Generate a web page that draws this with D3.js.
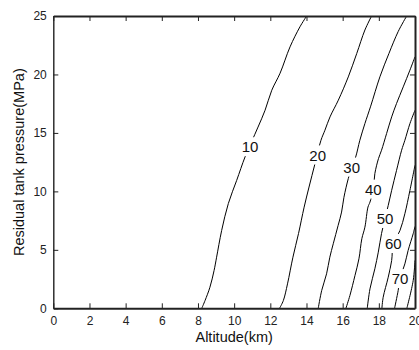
<!DOCTYPE html>
<html>
<head>
<meta charset="utf-8">
<script src="https://cdn.jsdelivr.net/npm/d3@7"></script>
<style>
  body { margin: 0; background: #fff; }
  svg { display: block; font-family: Arial, "Liberation Sans", sans-serif; }
</style>
</head>
<body>
<div id="chart"></div>
<script>
// contour levels (values on the lines), last one is unlabelled
const levels = [10, 20, 30, 40, 50, 60, 70, 80];

// each line: [altitude km, residual pressure MPa]
const line10 = [[8.21, 0], [8.39, 0.66], [8.66, 1.8], [8.89, 3.23], [9.03, 4.37], [9.31, 6.66], [9.68, 8.97],
  [10.14, 10.94], [10.6, 12.94], [10.95, 14.2], [11.32, 15.5], [11.71, 16.94], [12.08, 18.65], [12.54, 20.11],
  [13.09, 22.36], [13.64, 24.08], [14.01, 25]];
const line20 = [[12.51, 0], [12.72, 0.66], [12.95, 2.09], [13.25, 4.37], [13.56, 6.4], [13.87, 8.65], [14.14, 10.37],
  [14.47, 12.37], [14.8, 14.37], [15.02, 15.23], [15.3, 16.37], [15.76, 17.8], [16.31, 19.79], [16.78, 21.8],
  [17.23, 23.8], [17.6, 25]];
const line30 = [[14.65, 0], [14.84, 1.52], [15.11, 2.95], [15.29, 4.37], [15.48, 5.52], [15.75, 7.09], [15.94, 8.23],
  [16.07, 9.49], [16.31, 11.09], [16.5, 12.06], [16.72, 12.94], [16.95, 14.37], [17.23, 15.8], [17.55, 17.29],
  [18.06, 19.8], [18.56, 21.8], [19.07, 23.67], [19.54, 25]];
const line40 = [[16.18, 0], [16.4, 1.09], [16.68, 2.8], [16.9, 4.23], [17.06, 5.95], [17.23, 6.94], [17.4, 8.66],
  [17.51, 9.08], [17.69, 10.17], [17.78, 11.52], [17.98, 12.8], [18.15, 13.52], [18.43, 14.95], [18.71, 16.37],
  [18.98, 17.52], [19.35, 18.94], [19.72, 20.37], [20, 21.51]];
const line50 = [[17.36, 0], [17.51, 1.66], [17.78, 3.38], [17.97, 4.8], [18.15, 6.4], [18.34, 7.66], [18.52, 8.8],
  [18.71, 10.09], [18.98, 11.8], [19.26, 13.52], [19.44, 14.37], [19.72, 15.8], [20, 16.94]];
const line60 = [[18.17, 0], [18.24, 0.94], [18.52, 2.66], [18.71, 4.09], [18.8, 5.52], [19.17, 6.66], [19.44, 8.09],
  [19.72, 10.09], [20, 12.23]];
const line70 = [[18.87, 0], [19.07, 1.52], [19.17, 2.52], [19.44, 3.8], [19.62, 4.95], [19.9, 6.38], [20, 7.0]];
const line80 = [[19.55, 0], [19.9, 2.37], [20, 4.09]];
const lines = [line10, line20, line30, line40, line50, line60, line70, line80];

// where the level numbers sit [km, MPa]
const labelLevels = [10, 20, 30, 40, 50, 60, 70];
const labelPos = [[10.88, 13.8], [14.62, 13.09], [16.5, 12.06], [17.69, 10.17], [18.34, 7.66], [18.8, 5.52], [19.17, 2.52]];

const xTicks = [0, 2, 4, 6, 8, 10, 12, 14, 16, 18, 20];
const yTicks = [0, 5, 10, 15, 20, 25];

const width = 419, height = 350;
const margin = {top: 16, right: 4, bottom: 42, left: 53.3};

const svg = d3.select("#chart").append("svg")
  .attr("width", width).attr("height", height);

const x = d3.scaleLinear().domain([0, 20]).range([margin.left, width - margin.right]);
const y = d3.scaleLinear().domain([0, 25]).range([height - margin.bottom + 0.3, margin.top]);

svg.append("clipPath").attr("id", "plot")
  .append("rect")
  .attr("x", x(0)).attr("y", y(25))
  .attr("width", x(20) - x(0)).attr("height", y(0) - y(25));

const path = d3.line()
  .x(d => x(d[0]))
  .y(d => y(d[1]))
  .curve(d3.curveCatmullRom.alpha(0.5));

const g = svg.append("g").attr("clip-path", "url(#plot)");
g.selectAll("path.contour")
  .data(lines)
  .enter()
  .append("path")
  .attr("class", "contour")
  .attr("d", path)
  .attr("fill", "none")
  .attr("stroke", "#000")
  .attr("stroke-width", 1);

// labels with a white box breaking the line
const labels = svg.append("g");
labelLevels.forEach(function (lv, i) {
  let lg = labels.append("g");
  let t = lg.append("text")
    .attr("x", x(labelPos[i][0]))
    .attr("y", y(labelPos[i][1]))
    .attr("text-anchor", "middle")
    .attr("dy", "0.35em")
    .attr("font-size", 15)
    .attr("fill", "#111")
    .text(lv);
  let b = t.node().getBBox();
  lg.insert("rect", "text")
    .attr("x", b.x - 1).attr("y", b.y - 1)
    .attr("width", b.width + 2).attr("height", b.height + 2)
    .attr("fill", "#fff");
});

// axes, ticks pointing inward
const axBottom = svg.append("g")
  .attr("transform", "translate(0," + y(0) + ")")
  .call(d3.axisBottom(x).tickValues(xTicks).tickSizeInner(-5).tickSizeOuter(0).tickPadding(8.5));
const axLeft = svg.append("g")
  .attr("transform", "translate(" + x(0) + ",0)")
  .call(d3.axisLeft(y).tickValues(yTicks).tickSizeInner(-5).tickSizeOuter(0).tickPadding(6.5));
const axTop = svg.append("g")
  .attr("transform", "translate(0," + y(25) + ")")
  .call(d3.axisTop(x).tickValues(xTicks).tickSizeInner(-5).tickSizeOuter(0).tickFormat(""));
const axRight = svg.append("g")
  .attr("transform", "translate(" + x(20) + ",0)")
  .call(d3.axisRight(y).tickValues(yTicks).tickSizeInner(-5).tickSizeOuter(0).tickFormat(""));

[axBottom, axLeft, axTop, axRight].forEach(function (a) {
  a.selectAll(".tick line").attr("stroke", "#222");
  a.selectAll(".tick text").attr("font-size", 12).attr("fill", "#222")
    .attr("font-family", "Arial, 'Liberation Sans', sans-serif");
  a.select(".domain").attr("stroke", "#222").attr("stroke-width", 2);
});
axLeft.select(".domain").attr("stroke-width", 1.4);

svg.append("text")
  .attr("x", (x(0) + x(20)) / 2)
  .attr("y", 341.5)
  .attr("text-anchor", "middle")
  .attr("font-size", 14.5)
  .attr("fill", "#111")
  .text("Altitude(km)");

svg.append("text")
  .attr("transform", "translate(24," + (y(0) + y(25)) / 2 + ") rotate(-90)")
  .attr("text-anchor", "middle")
  .attr("font-size", 14.5)
  .attr("fill", "#111")
  .text("Residual tank pressure(MPa)");
</script>
</body>
</html>
